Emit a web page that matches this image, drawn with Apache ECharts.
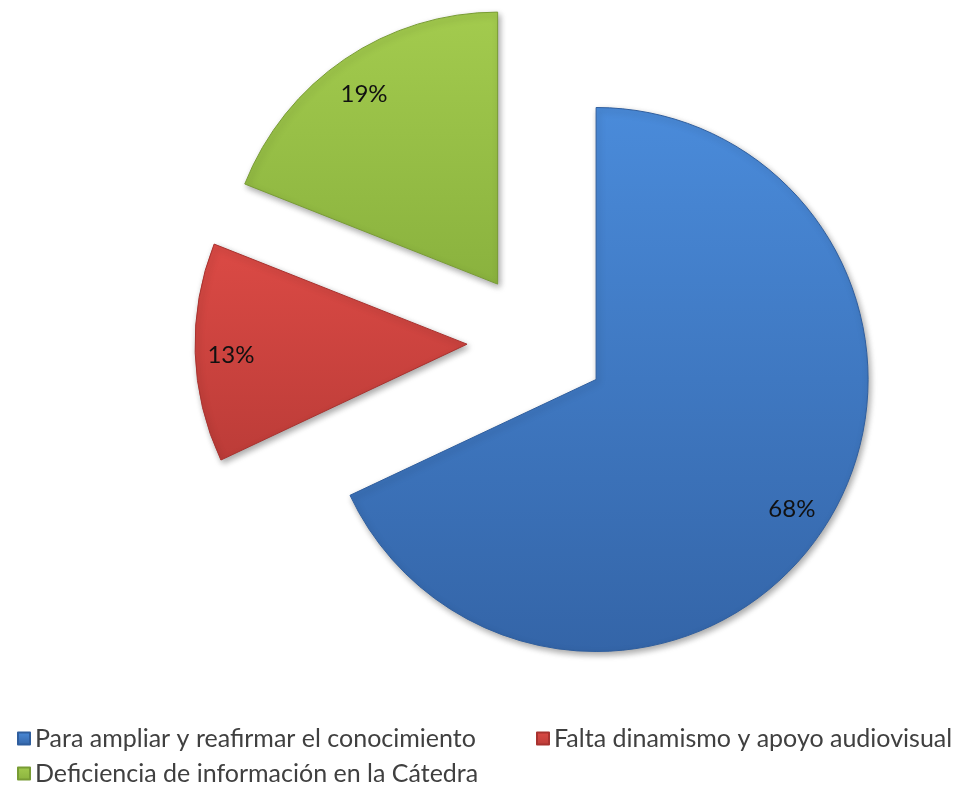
<!DOCTYPE html>
<html>
<head>
<meta charset="utf-8">
<script src="https://cdn.jsdelivr.net/npm/echarts@6/dist/echarts.min.js"></script>
<style>html,body{margin:0;padding:0;background:#fff;}#c{width:954px;height:790px;}</style>
</head>
<body>
<div id="c"></div>
<script>
const categories = ['Para ampliar y reafirmar el conocimiento', 'Falta dinamismo y apoyo audiovisual', 'Deficiencia de información en la Cátedra'];
const values = [68, 13, 19];
const colorsTop = ['#4A8BDA', '#DB4A45', '#A3CB4E'];
const colorsBottom = ['#3465A8', '#BC3C38', '#8AB23E'];
const borders = ['#2F5E9E', '#A8322F', '#789C34'];

const R = 272;
const total = values.reduce((a, b) => a + b, 0);
const mids = [];
let acc = 0;
values.forEach(v => { mids.push((acc + v / 2) / total * 360); acc += v; });

const legendText = {fontFamily: 'Lato', fontSize: 25, color: '#404040'};
const legendBase = {icon: 'rect', itemWidth: 12, itemHeight: 12, textStyle: legendText, selectedMode: false};
const chart = echarts.init(document.getElementById('c'), null, {renderer: 'canvas'});
chart.setOption({
  animation: false,
  legend: [
    Object.assign({data: [categories[0]], left: 12, top: 721}, legendBase),
    Object.assign({data: [categories[1]], left: 531, top: 721}, legendBase),
    Object.assign({data: [categories[2]], left: 12, top: 756}, legendBase)
  ],
  series: [{
    type: 'pie',
    center: [537, 342],
    radius: [0, R],
    startAngle: 90,
    clockwise: true,
    selectedMode: 'multiple',
    selectedOffset: 70,
    emphasis: {disabled: true},
    label: {
      show: true, position: 'inside',
      formatter: p => p.value + '%',
      fontFamily: 'Lato', fontSize: 24, color: '#111111'
    },
    labelLine: {show: false},
    labelLayout: function (params) {
      const a = mids[params.dataIndex] * Math.PI / 180;
      const k = 0.35 * R;
      return {dx: k * Math.sin(a) - 2, dy: -k * Math.cos(a) + 4};
    },
    data: values.map((v, i) => ({
      name: categories[i], value: v, selected: true,
      itemStyle: {
        color: new echarts.graphic.LinearGradient(0, 0, 0, 1, [
          {offset: 0, color: colorsTop[i]}, {offset: 1, color: colorsBottom[i]}
        ]),
        borderColor: borders[i], borderWidth: 1,
        shadowBlur: 6, shadowColor: 'rgba(0,0,0,0.35)', shadowOffsetX: 2, shadowOffsetY: 3
      }
    }))
  }]
});
</script>
</body>
</html>
